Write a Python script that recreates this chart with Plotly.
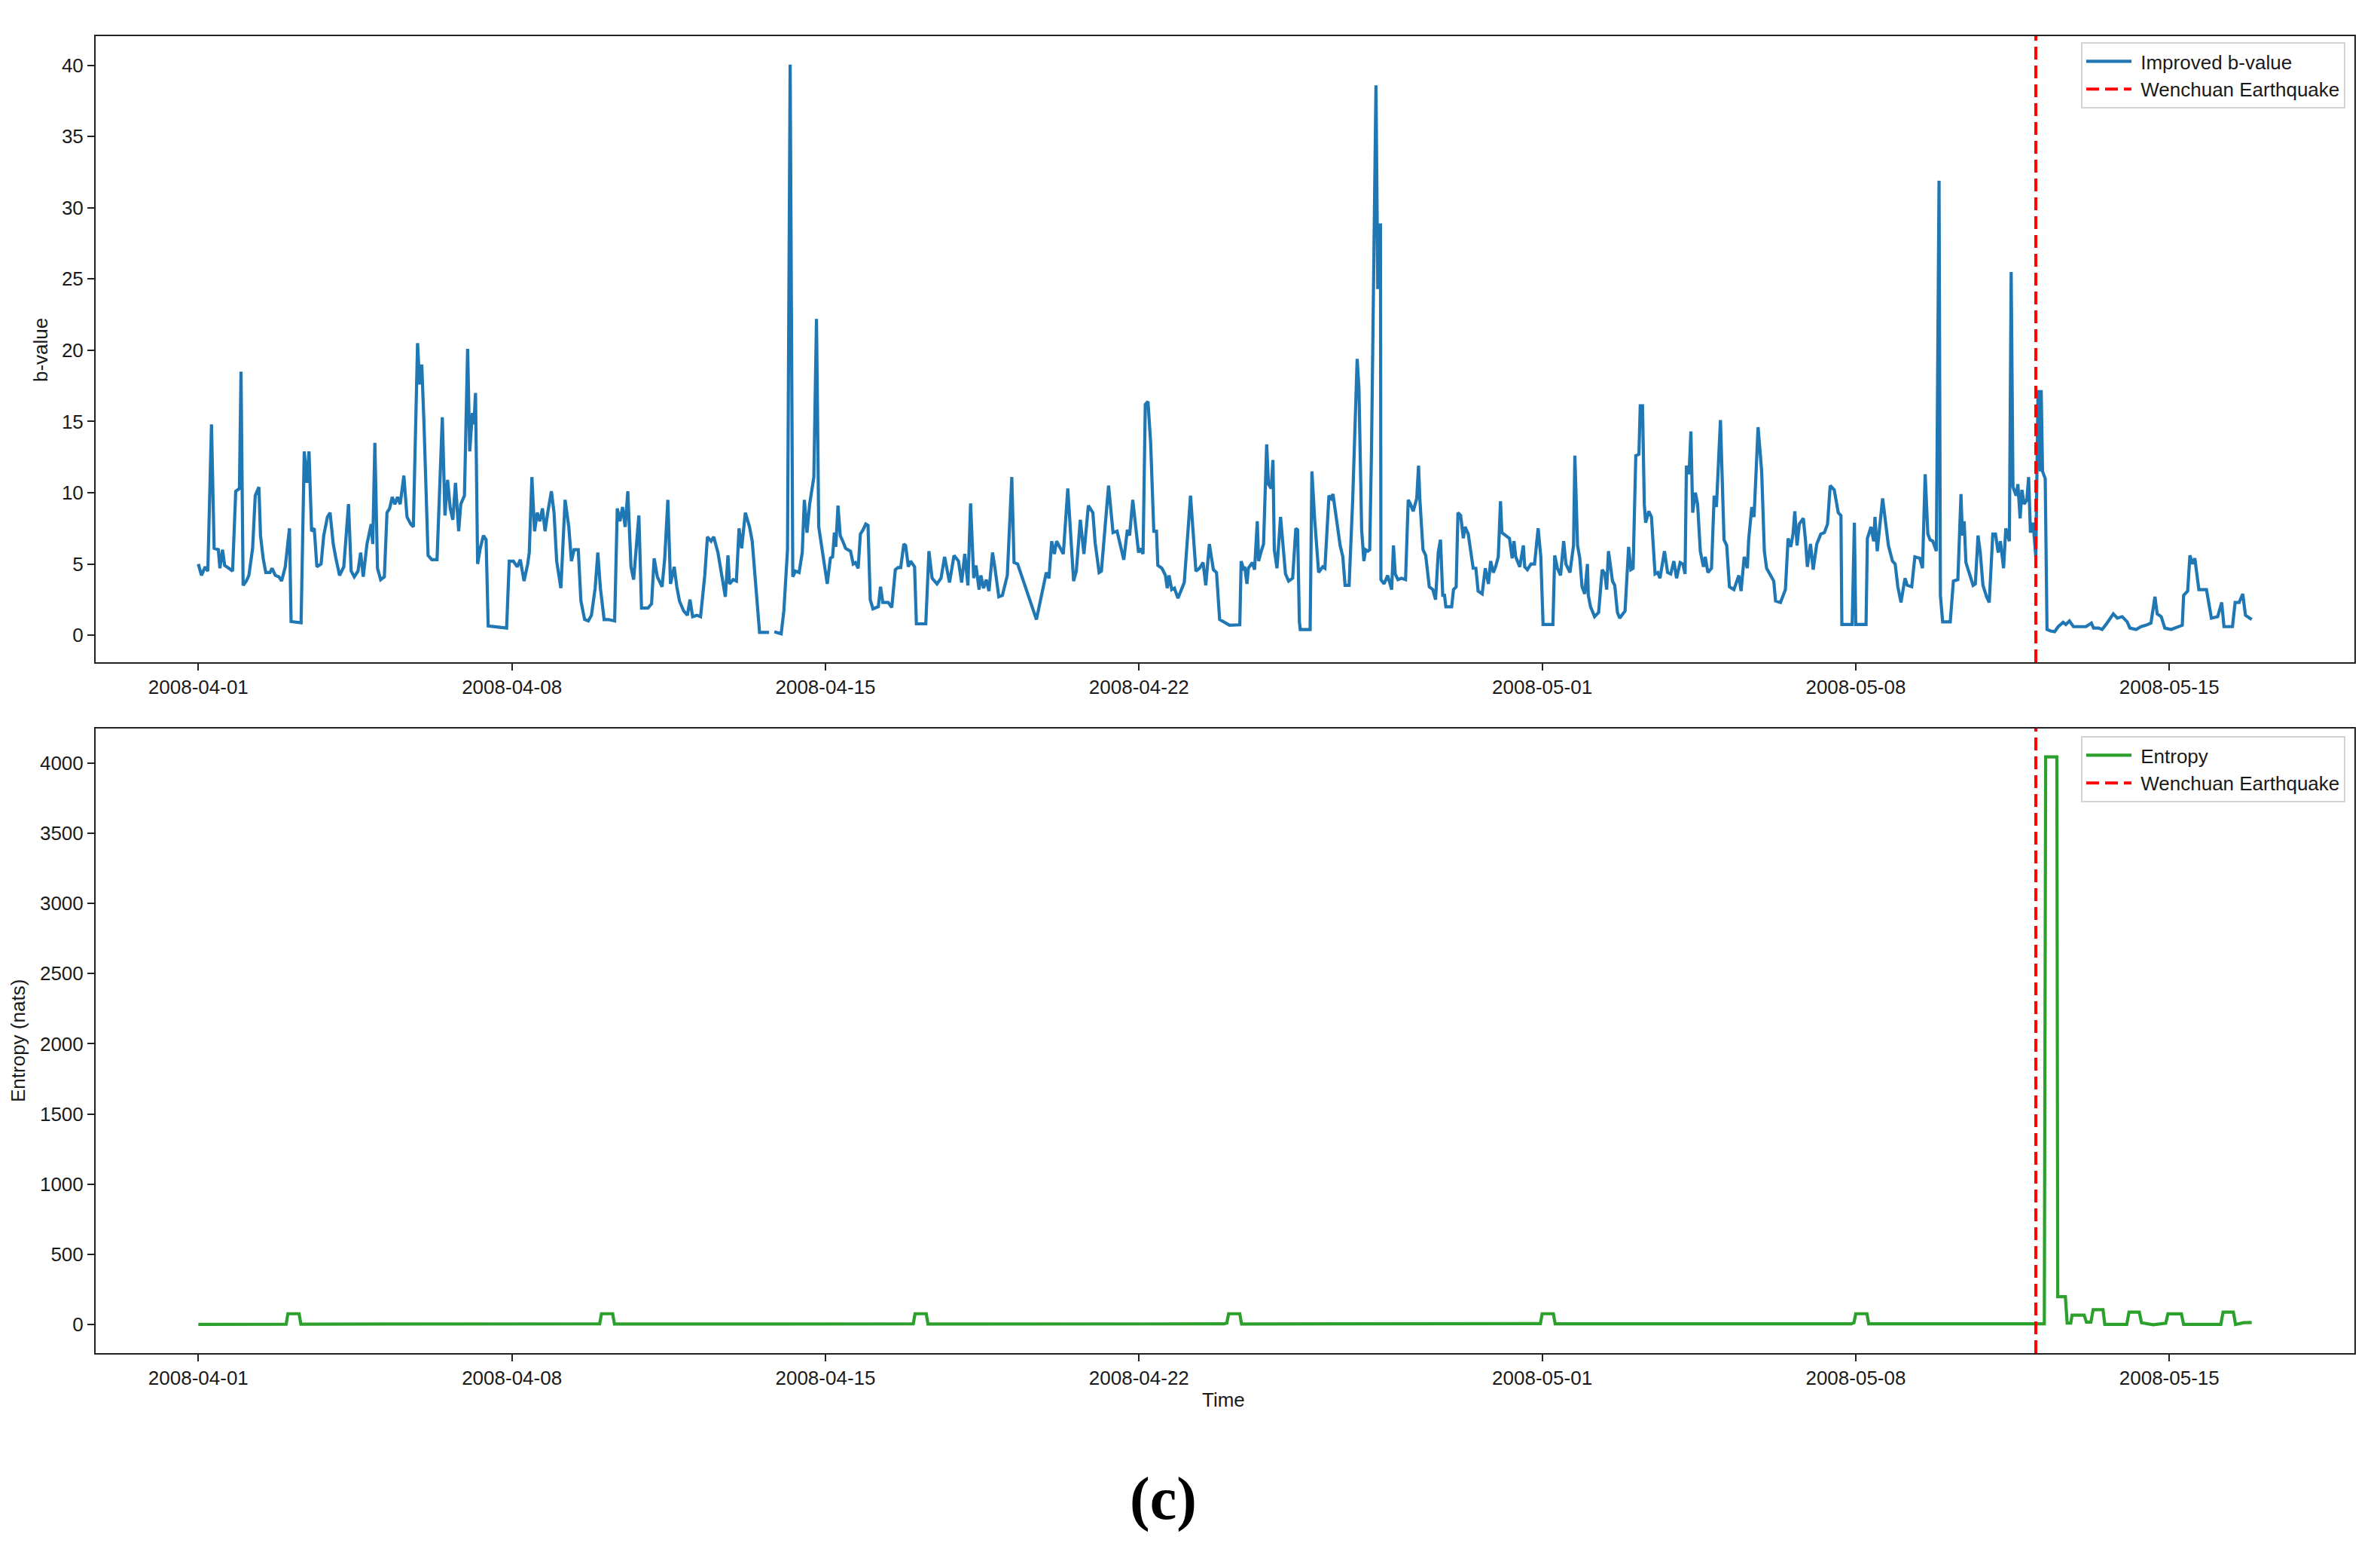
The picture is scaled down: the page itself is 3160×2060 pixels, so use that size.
import numpy as np
import pandas as pd
import plotly.graph_objects as go

# ---------------- data ----------------
START = "2008-04-01"
EQ_TIME = "2008-05-12 00:30"

# b-value: day offsets from START and values (None = gap)
b_days = [
    0.000, 0.071, 0.153, 0.212, 0.294, 0.353, 0.447, 0.482, 0.541, 0.588, 0.682, 0.765, 0.835, 0.918, 0.953,
    1.000, 1.071, 1.129, 1.212, 1.271, 1.353, 1.388, 1.447, 1.506, 1.600, 1.647, 1.718, 1.800, 1.859, 1.941,
    2.035, 2.071, 2.294, 2.365, 2.424, 2.471, 2.529, 2.588, 2.647, 2.741, 2.800, 2.882, 2.941,
    3.012, 3.071, 3.153, 3.247, 3.353, 3.412, 3.482, 3.565, 3.624, 3.682, 3.765, 3.859, 3.894, 3.941,
    4.000, 4.071, 4.153, 4.212, 4.271, 4.329, 4.388, 4.447, 4.506, 4.588, 4.659, 4.741, 4.800, 4.894, 4.941, 4.988,
    5.035, 5.129, 5.212, 5.329, 5.447, 5.506, 5.565, 5.624, 5.682, 5.741, 5.812, 5.859, 5.941,
    6.012, 6.059, 6.118, 6.153, 6.188, 6.235, 6.294, 6.365, 6.424, 6.471, 6.882, 6.941,
    7.035, 7.118, 7.188, 7.271, 7.353, 7.388, 7.447, 7.506, 7.565, 7.624, 7.682, 7.741, 7.800, 7.882, 7.941,
    8.000, 8.094, 8.188, 8.271, 8.329, 8.388, 8.482, 8.541, 8.624, 8.706, 8.776, 8.859, 8.918, 8.976,
    9.059, 9.153, 9.294, 9.353, 9.412, 9.471, 9.529, 9.588, 9.659, 9.718, 9.776, 9.835, 9.894,
    10.035, 10.118, 10.176, 10.247, 10.353, 10.412, 10.482, 10.541, 10.624, 10.682, 10.741, 10.835, 10.918, 10.976,
    11.035, 11.129, 11.212, 11.306, 11.365, 11.447, 11.506, 11.600, 11.682, 11.765, 11.824, 11.859, 11.941,
    12.012, 12.071, 12.129, 12.212, 12.306, 12.365, 12.447, 12.529, 12.741, 12.80, 12.859,
    13.012, 13.071, 13.153, 13.212, 13.271, 13.329, 13.412, 13.482, 13.529, 13.588, 13.647, 13.741, 13.800,
    13.85, 13.915, 14.00, 14.04, 14.11, 14.16, 14.20, 14.23, 14.28, 14.33, 14.40, 14.45, 14.50, 14.56, 14.62,
    14.67, 14.73, 14.78, 14.84, 14.90, 14.95, 15.00, 15.06, 15.18, 15.23, 15.28, 15.40, 15.48, 15.56, 15.62,
    15.68, 15.75, 15.79, 15.85, 15.90, 15.99, 16.03, 16.24, 16.31, 16.38, 16.49, 16.58, 16.66, 16.77, 16.87,
    16.97, 17.04, 17.11, 17.18, 17.24, 17.31, 17.36, 17.43, 17.47, 17.53, 17.59, 17.65, 17.73, 17.78, 17.87,
    17.95, 18.06, 18.16, 18.21, 18.29, 18.48, 18.71, 18.93, 18.99, 19.05, 19.11, 19.16, 19.24, 19.31, 19.41,
    19.54, 19.60, 19.69, 19.77, 19.87, 19.97, 20.02, 20.11, 20.16, 20.32, 20.42, 20.51, 20.58, 20.66, 20.74,
    20.79, 20.86, 20.94, 20.99, 21.03, 21.09, 21.14, 21.20, 21.26, 21.33, 21.39, 21.42, 21.51, 21.59, 21.63,
    21.67, 21.73, 21.79, 21.87, 22.01, 22.15, 22.27, 22.35, 22.43, 22.49, 22.57, 22.66, 22.73, 22.80, 23.02,
    23.25, 23.28, 23.33, 23.36, 23.41, 23.44, 23.53, 23.58, 23.64, 23.67, 23.72, 23.78, 23.85, 23.89, 23.95,
    23.99, 24.02, 24.08, 24.16, 24.23, 24.27, 24.34, 24.43, 24.50, 24.54, 24.58, 24.60, 24.82, 24.86, 24.92,
    25.01, 25.10, 25.15, 25.24, 25.29, 25.33, 25.42, 25.49, 25.55, 25.60, 25.69, 25.77, 25.87, 25.91, 25.97,
    26.02, 26.06, 26.11, 26.15, 26.19, 26.29, 26.33, 26.36, 26.39, 26.40, 26.47, 26.55, 26.64, 26.68, 26.72,
    26.78, 26.86, 26.95, 27.01, 27.06, 27.12, 27.20, 27.24, 27.27, 27.34, 27.40, 27.48, 27.56, 27.62, 27.68,
    27.73, 27.78, 27.82, 27.85, 27.98, 28.02, 28.08, 28.12, 28.18, 28.24, 28.28, 28.35, 28.40, 28.46, 28.52,
    28.57, 28.66, 28.73, 28.80, 28.85, 28.91, 28.96, 29.02, 29.07, 29.10, 29.19, 29.27, 29.33, 29.37, 29.41,
    29.50, 29.58, 29.61, 29.67, 29.75, 29.83, 29.91, 29.97, 30.02, 30.24, 30.28, 30.34, 30.41, 30.48, 30.53,
    30.62, 30.70, 30.73, 30.79, 30.84, 30.89, 30.95, 31.01, 31.03, 31.08, 31.17, 31.26, 31.34, 31.40, 31.44,
    31.48, 31.57, 31.62, 31.68, 31.73, 31.85, 31.93, 31.98, 32.03, 32.09, 32.16, 32.19, 32.24, 32.28, 32.31,
    32.38, 32.44, 32.52, 32.58, 32.63, 32.73, 32.80, 32.87, 32.94, 33.00, 33.08, 33.14, 33.19, 33.22, 33.28,
    33.32, 33.36, 33.42, 33.47, 33.53, 33.60, 33.64, 33.70, 33.78, 33.84, 33.89, 33.98, 34.06, 34.12, 34.18,
    34.28, 34.39, 34.44, 34.51, 34.58, 34.61, 34.68, 34.73, 34.82, 34.90, 34.96, 35.01, 35.10, 35.17, 35.21,
    35.32, 35.43, 35.49, 35.55, 35.60, 35.64, 35.69, 35.74, 35.83, 35.88, 35.92, 35.99, 36.05, 36.13, 36.22,
    36.30, 36.37, 36.43, 36.52, 36.61, 36.67, 36.69, 36.92, 36.97, 37.00, 37.23, 37.26, 37.34, 37.40, 37.43,
    37.48, 37.60, 37.68, 37.73, 37.82, 37.88, 37.94, 38.01, 38.10, 38.15, 38.25, 38.32, 38.43, 38.49, 38.55,
    38.61, 38.66, 38.72, 38.80, 38.86, 38.89, 38.94, 39.11, 39.18, 39.28, 39.35, 39.38, 39.42, 39.46, 39.53,
    39.62, 39.67, 39.73, 39.78, 39.84, 39.92, 39.98, 40.06, 40.12, 40.18, 40.23, 40.30, 40.35, 40.43, 40.47,
    40.51, 40.58, 40.62, 40.67, 40.71, 40.76, 40.82, 40.86, 40.90, 40.96, 41.02, 41.07, 41.12, 41.14, 41.17,
    41.23, 41.27, 41.35, 41.44, 41.52, 41.63, 41.69, 41.77, 41.86, 41.97, 42.14, 42.26, 42.31, 42.42, 42.50,
    42.61, 42.75, 42.84, 42.95, 43.06, 43.12, 43.26, 43.37, 43.48, 43.59, 43.68, 43.73, 43.82, 43.90, 44.04,
    44.18, 44.29, 44.32, 44.41, 44.46, 44.52, 44.57, 44.66, 44.83, 44.94, 45.08, 45.17, 45.22, 45.41, 45.47,
    45.56, 45.64, 45.70, 45.84,
]
b_values = [
    5.0, 4.2, 4.8, 4.5, 14.8, 6.1, 6.0, 4.7, 6.0, 4.9, 4.7, 4.5, 10.1, 10.3, 18.5,
    3.5, 3.8, 4.2, 6.1, 9.8, 10.4, 7.0, 5.4, 4.4, 4.4, 4.7, 4.2, 4.1, 3.8, 4.8,
    7.5, 0.96, 0.87, 12.9, 10.7, 12.9, 7.3, 7.5, 4.8, 5.0, 7.0, 8.3, 8.6,
    6.4, 5.4, 4.2, 4.8, 9.2, 4.5, 4.1, 4.5, 5.8, 4.1, 6.4, 7.8, 6.4, 13.5,
    4.7, 3.9, 4.1, 8.6, 8.9, 9.7, 9.2, 9.7, 9.2, 11.2, 8.3, 7.8, 7.6, 20.5, 17.6, 19.0,
    15.1, 5.6, 5.3, 5.3, 15.3, 8.4, 10.9, 8.9, 8.1, 10.7, 7.3, 9.2, 9.8,
    20.1, 12.9, 15.6, 14.8, 17.0, 5.0, 6.1, 7.0, 6.7, 0.65, 0.5, 5.2,
    5.2, 4.8, 5.3, 3.8, 5.0, 5.8, 11.1, 7.3, 8.6, 8.0, 8.9, 7.3, 8.6, 10.1, 8.6,
    5.2, 3.3, 9.5, 7.6, 5.2, 6.0, 6.0, 2.4, 1.1, 1.0, 1.4, 3.3, 5.8, 3.3,
    1.1, 1.1, 1.0, 8.9, 8.0, 9.0, 7.6, 10.1, 4.8, 3.9, 6.4, 8.4, 1.9,
    1.9, 2.2, 5.4, 4.1, 3.4, 5.4, 9.5, 3.6, 4.8, 3.4, 2.4, 1.7, 1.4, 2.5,
    1.3, 1.4, 1.3, 4.2, 6.9, 6.6, 6.9, 5.8, 4.2, 2.7, 5.6, 3.6, 3.9,
    3.8, 7.5, 6.1, 8.6, 7.6, 6.6, 3.3, 0.2, 0.2, None, 0.25,
    0.1, 1.7, 6.0, 40.05, 4.1, 4.5, 4.4, 5.8, 9.5, 7.2, 9.2, 11.1, 22.2,
    7.6, 6.1, 4.4, 3.6, 5.4, 5.5, 7.2, 6.2, 9.1, 7.0, 6.5, 6.1, 6.0, 5.9, 5.0,
    5.1, 4.7, 7.1, 7.4, 7.8, 7.7, 2.5, 1.85, 2.0, 3.4, 2.3, 2.3, 1.95, 4.6, 4.75,
    4.75, 6.4, 6.3, 4.8, 5.2, 4.8, 0.8, 0.8, 5.9, 4.0, 3.6, 4.0, 5.5, 3.7, 5.6,
    5.2, 3.7, 5.7, 3.5, 9.25, 4.0, 4.9, 3.2, 4.2, 3.3, 3.9, 3.1, 5.8, 4.8, 2.7,
    2.8, 4.2, 11.1, 5.1, 5.0, 3.3, 1.1, 4.4, 4.0, 6.6, 5.7, 6.6, 6.1, 5.7, 10.3,
    3.8, 4.5, 8.1, 5.7, 9.1, 8.6, 6.5, 4.4, 4.5, 10.5, 7.2, 7.3, 6.3, 5.3, 7.4,
    7.0, 9.5, 7.4, 5.8, 6.1, 5.7, 16.2, 16.4, 13.5, 7.3, 7.3, 4.9, 4.7, 4.2, 3.3,
    4.2, 3.2, 3.3, 2.6, 3.7, 9.8, 4.5, 4.7, 5.1, 3.5, 6.4, 4.6, 4.4, 1.1, 0.7,
    0.73, 5.2, 4.7, 4.8, 3.6, 4.7, 5.1, 4.6, 8.0, 5.2, 5.8, 6.4, 13.4, 10.6, 10.3,
    12.3, 6.0, 4.7, 8.3, 5.5, 4.3, 3.8, 4.0, 7.5, 7.4, 0.94, 0.4, 0.4, 11.5, 8.2,
    4.4, 4.8, 4.7, 9.8, 9.6, 9.9, 7.9, 6.3, 5.5, 3.5, 3.5, 9.5, 19.4, 17.3, 7.4,
    5.2, 6.0, 5.9, 6.0, 13.0, 38.6, 24.3, 28.8, 28.8, 3.9, 3.6, 4.2, 3.2, 6.3, 4.3,
    3.9, 4.0, 3.9, 9.5, 9.2, 8.7, 9.6, 11.9, 9.5, 6.0, 5.6, 3.4, 3.2, 2.5, 5.8,
    6.7, 2.8, 2.8, 2.0, 2.0, 3.2, 3.4, 8.6, 8.4, 6.8, 7.6, 7.1, 5.8, 4.7, 4.7,
    3.1, 2.9, 4.7, 3.6, 5.2, 4.4, 4.8, 5.5, 9.4, 7.2, 7.0, 6.8, 5.4, 6.6, 5.5,
    4.8, 6.3, 4.8, 4.6, 5.0, 5.0, 7.5, 5.5, 0.75, 0.75, 5.6, 4.7, 4.2, 6.6, 5.0,
    4.4, 6.3, 12.6, 6.3, 5.4, 3.4, 2.9, 5.0, 2.8, 2.0, 1.3, 1.6, 4.6, 4.3, 3.2,
    5.9, 3.8, 3.5, 1.6, 1.2, 1.7, 6.2, 4.6, 4.7, 12.6, 12.7, 16.1, 16.1, 9.2, 7.9,
    8.7, 8.3, 4.3, 4.4, 4.0, 5.9, 4.4, 4.3, 5.2, 4.0, 5.1, 5.0, 4.3, 11.9, 11.3,
    14.3, 8.6, 10.0, 9.2, 5.9, 4.8, 5.5, 4.4, 4.7, 9.8, 9.0, 15.1, 6.7, 6.3, 3.4,
    3.2, 4.2, 3.1, 5.5, 4.7, 6.7, 9.0, 8.3, 14.6, 11.5, 5.9, 4.7, 4.2, 3.8, 2.4,
    2.3, 3.2, 6.8, 6.2, 7.1, 8.7, 6.3, 7.8, 8.2, 6.6, 4.8, 6.4, 4.6, 6.4, 7.1,
    7.2, 7.8, 10.5, 10.2, 8.6, 8.4, 0.75, 0.75, 7.9, 0.75, 0.75, 6.8, 7.6, 6.6, 8.3,
    5.9, 9.6, 7.5, 6.3, 5.2, 5.0, 3.4, 2.3, 4.0, 3.5, 3.4, 5.5, 5.4, 4.7, 11.3,
    7.1, 6.7, 6.6, 5.9, 31.9, 2.8, 0.94, 0.94, 3.8, 3.9, 9.9, 7.0, 8.0, 5.1, 4.4,
    3.5, 3.6, 7.0, 5.8, 3.5, 2.7, 2.3, 7.1, 7.1, 5.8, 6.6, 4.7, 7.5, 6.6, 25.5,
    10.4, 9.8, 10.6, 8.2, 10.2, 9.2, 9.5, 11.1, 7.2, 7.9, 5.5, 17.2, 11.5, 17.2, 11.5,
    11.0, 0.4, 0.3, 0.25, 0.6, 0.9, 0.75, 1.0, 0.6, 0.6, 0.6, 0.85, 0.5, 0.5, 0.4,
    0.85, 1.5, 1.2, 1.3, 0.94, 0.5, 0.4, 0.6, 0.7, 0.85, 2.7, 1.5, 1.3, 0.5, 0.4,
    0.6, 0.7, 2.8, 3.1, 5.6, 5.0, 5.4, 3.2, 3.2, 1.2, 1.3, 2.3, 0.6, 0.6, 2.3,
    2.3, 2.9, 1.4, 1.1,
]

# Entropy: day offsets from START and values (nats)
e_days = [
    0.0, 1.96, 2.0, 2.25, 2.29,
    8.96, 9.0, 9.25, 9.29,
    15.96, 16.0, 16.25, 16.29,
    22.9, 22.96, 23.0, 23.25, 23.29,
    29.96, 30.0, 30.25, 30.29,
    36.9, 36.96, 37.0, 37.25, 37.29,
    41.21, 41.24, 41.49, 41.51, 41.68, 41.72, 41.80, 41.83, 42.10, 42.15, 42.25, 42.30, 42.52, 42.56,
    43.05, 43.10, 43.33, 43.38, 43.64, 43.92, 43.97, 44.27, 44.32, 45.15, 45.20, 45.43, 45.48, 45.66, 45.84,
]
e_values = [
    2, 3, 78, 78, 4,
    6, 78, 78, 5,
    6, 78, 78, 5,
    6, 12, 78, 78, 5,
    8, 78, 78, 6,
    6, 14, 78, 78, 6,
    6, 4042, 4042, 200, 200, 12, 12, 68, 68, 18, 18, 107, 107, 2,
    2, 89, 89, 14, 0, 10, 77, 77, 2, 2, 89, 89, 2, 14, 16,
]

x_tick_dates = ["2008-04-01", "2008-04-08", "2008-04-15", "2008-04-22",
                "2008-05-01", "2008-05-08", "2008-05-15"]
b_ticks = [0, 5, 10, 15, 20, 25, 30, 35, 40]
e_ticks = [0, 500, 1000, 1500, 2000, 2500, 3000, 3500, 4000]

# ---------------- build figure ----------------
base = pd.Timestamp(START)
b_time = base + pd.to_timedelta(np.array(b_days, dtype=float), unit="D")
e_time = base + pd.to_timedelta(np.array(e_days, dtype=float), unit="D")
b_y = np.array([np.nan if v is None else v for v in b_values], dtype=float)
e_y = np.array(e_values, dtype=float)
eq = pd.Timestamp(EQ_TIME)


def padded(lo, hi, frac=0.05):
    span = hi - lo
    return lo - frac * span, hi + frac * span


t_lo = min(b_time.min(), e_time.min())
t_hi = max(b_time.max(), e_time.max())
span = t_hi - t_lo
x_range = [t_lo - 0.05 * span, t_hi + 0.05 * span]
b_range = list(padded(np.nanmin(b_y), np.nanmax(b_y)))
e_range = list(padded(e_y.min(), e_y.max()))

W, H = 3160, 2060
L, R, T, B = 127, 34, 48, 264
plot_h = H - T - B
plot_w = W - L - R
top_dom = [(1796 - 879) / plot_h, 1.0]
bot_dom = [0.0, (1796 - 967) / plot_h]

FONT = "Liberation Sans, Arial, sans-serif"
TXT = "#1a1a1a"
BLUE, GREEN, RED = "#1f77b4", "#2ca02c", "#ff0000"
NB = "\u00a0"

fig = go.Figure()
fig.add_trace(go.Scatter(x=b_time, y=b_y, mode="lines", name=NB + "Improved b-value",
                         line=dict(color=BLUE, width=4.2), xaxis="x", yaxis="y",
                         legend="legend", connectgaps=False))
fig.add_trace(go.Scatter(x=[eq, eq], y=b_range, mode="lines", name=NB + "Wenchuan Earthquake",
                         line=dict(color=RED, width=4, dash="17px,8px"), xaxis="x", yaxis="y",
                         legend="legend"))
fig.add_trace(go.Scatter(x=e_time, y=e_y, mode="lines", name=NB + "Entropy",
                         line=dict(color=GREEN, width=4.2), xaxis="x2", yaxis="y2",
                         legend="legend2"))
fig.add_trace(go.Scatter(x=[eq, eq], y=e_range, mode="lines", name=NB + "Wenchuan Earthquake",
                         line=dict(color=RED, width=4, dash="17px,8px"), xaxis="x2", yaxis="y2",
                         legend="legend2"))

axis_common = dict(showline=True, linecolor="#222222", linewidth=2, mirror=True,
                   ticks="outside", ticklen=9, tickwidth=2, tickcolor="#222222",
                   showgrid=False, zeroline=False,
                   tickfont=dict(family=FONT, size=26, color=TXT))

legend_common = dict(xanchor="right", yanchor="top",
                     bgcolor="rgba(255,255,255,0.85)", bordercolor="#d3d3d3", borderwidth=2,
                     font=dict(family=FONT, size=26, color=TXT), itemwidth=60,
                     tracegroupgap=0)

fig.update_layout(
    width=W, height=H,
    margin=dict(l=L, r=R, t=T, b=B),
    paper_bgcolor="white", plot_bgcolor="white",
    font=dict(family=FONT, size=26, color=TXT),
    xaxis=dict(domain=[0, 1], anchor="y", range=x_range, type="date",
               tickvals=x_tick_dates, tickformat="%Y-%m-%d", **axis_common),
    yaxis=dict(domain=top_dom, anchor="x", range=b_range, tickvals=b_ticks, **axis_common),
    xaxis2=dict(domain=[0, 1], anchor="y2", range=x_range, type="date",
                tickvals=x_tick_dates, tickformat="%Y-%m-%d", **axis_common),
    yaxis2=dict(domain=bot_dom, anchor="x2", range=e_range, tickvals=e_ticks,
                tickformat="d", **axis_common),
    legend=dict(x=1 - 12 / plot_w, y=1 - 8 / plot_h, **legend_common),
    legend2=dict(x=1 - 12 / plot_w, y=bot_dom[1] - 10 / plot_h, **legend_common),
    showlegend=True,
)

annos = [
    dict(text="b-value", x=(54 - L) / plot_w, y=(1796 - 465) / plot_h, textangle=-90),
    dict(text="Entropy (nats)", x=(24 - L) / plot_w, y=(1796 - 1382) / plot_h, textangle=-90),
    dict(text="Time", x=(1624 - L) / plot_w, y=(1796 - 1858) / plot_h, textangle=0),
]
for a in annos:
    fig.add_annotation(xref="paper", yref="paper", showarrow=False,
                       xanchor="center", yanchor="middle",
                       font=dict(family=FONT, size=26, color=TXT), **a)

fig.add_annotation(xref="paper", yref="paper", showarrow=False,
                   x=(1544 - L) / plot_w, y=(1796 - 1990) / plot_h,
                   xanchor="center", yanchor="middle", text="<b>(c)</b>",
                   font=dict(family="Liberation Serif, Times New Roman, serif", size=80, color="#000000"))

fig.write_html("out.html", config={"displayModeBar": False},
               post_script="document.body.style.margin='0px';document.body.style.overflow='hidden';")
